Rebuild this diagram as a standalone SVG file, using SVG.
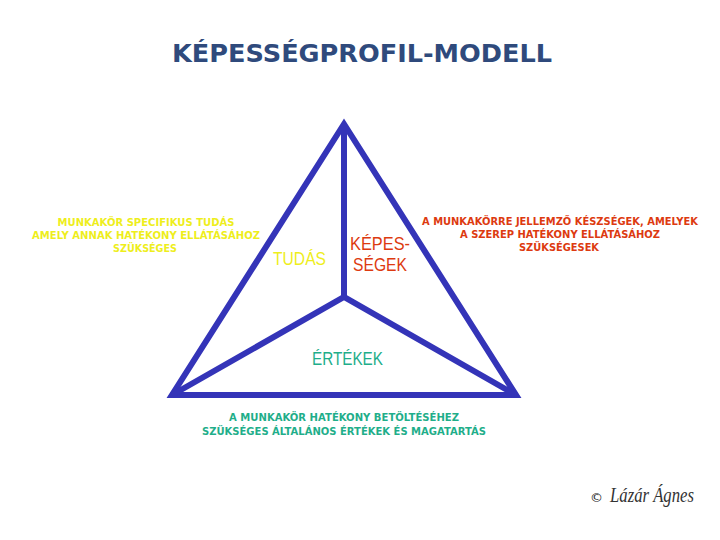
<svg xmlns="http://www.w3.org/2000/svg" width="720" height="540" viewBox="0 0 720 540">
<style>
.title{font-family:"DejaVu Sans",Verdana,sans-serif;font-weight:bold;font-size:25px;fill:#2f4a7c}
.small{font-family:"DejaVu Sans",Verdana,sans-serif;font-weight:bold;font-size:11px;text-anchor:middle}
.big{font-family:"Liberation Sans Narrow","Liberation Sans",Arial,sans-serif;font-size:19px}
.yel{fill:#eeee1c}
.red{fill:#dd3a10}
.teal{fill:#1fae8a}
.edge{stroke:#3434b8;stroke-width:6;fill:none;stroke-linejoin:miter;stroke-linecap:butt}
</style>
<rect width="720" height="540" fill="#ffffff"/>
<text class="title" x="362" y="62" text-anchor="middle" textLength="380" lengthAdjust="spacingAndGlyphs">KÉPESSÉGPROFIL-MODELL</text>
<g id="connectors">
<polygon class="edge" points="344,124 172,395 516,395"/>
<polyline class="edge" points="344,124 344,297"/>
<polyline class="edge" points="172,395 344,297 516,395"/>
</g>
<g id="tudas">
<text class="big yel" x="273" y="265" textLength="53" lengthAdjust="spacingAndGlyphs">TUDÁS</text>
<text class="small yel" x="146" y="226" textLength="177" lengthAdjust="spacingAndGlyphs">MUNKAKÖR SPECIFIKUS TUDÁS</text>
<text class="small yel" x="146" y="239" textLength="228" lengthAdjust="spacingAndGlyphs">AMELY ANNAK HATÉKONY ELLÁTÁSÁHOZ</text>
<text class="small yel" x="145" y="252" textLength="64" lengthAdjust="spacingAndGlyphs">SZÜKSÉGES</text>
</g>
<g id="kepessegek">
<text class="big red" x="350" y="250" textLength="60" lengthAdjust="spacingAndGlyphs">KÉPES-</text>
<text class="big red" x="353" y="271" textLength="54" lengthAdjust="spacingAndGlyphs">SÉGEK</text>
<text class="small red" x="560" y="225" textLength="276" lengthAdjust="spacingAndGlyphs">A MUNKAKÖRRE JELLEMZŐ KÉSZSÉGEK, AMELYEK</text>
<text class="small red" x="560" y="238" textLength="200" lengthAdjust="spacingAndGlyphs">A SZEREP HATÉKONY ELLÁTÁSÁHOZ</text>
<text class="small red" x="559" y="251" textLength="80" lengthAdjust="spacingAndGlyphs">SZÜKSÉGESEK</text>
</g>
<g id="ertekek">
<text class="big teal" x="312" y="365" textLength="71" lengthAdjust="spacingAndGlyphs">ÉRTÉKEK</text>
<text class="small teal" x="344" y="421" textLength="230" lengthAdjust="spacingAndGlyphs">A MUNKAKÖR HATÉKONY BETÖLTÉSÉHEZ</text>
<text class="small teal" x="344" y="435" textLength="284" lengthAdjust="spacingAndGlyphs">SZÜKSÉGES ÁLTALÁNOS ÉRTÉKEK ÉS MAGATARTÁS</text>
</g>
<g id="copyright">
<text x="590" y="502" font-family="DejaVu Sans,sans-serif" font-size="13" fill="#222">©</text>
<text x="610" y="502" font-family="Liberation Serif,serif" font-style="italic" font-size="21" fill="#333" textLength="84" lengthAdjust="spacingAndGlyphs">Lázár Ágnes</text>
</g>
</svg>
